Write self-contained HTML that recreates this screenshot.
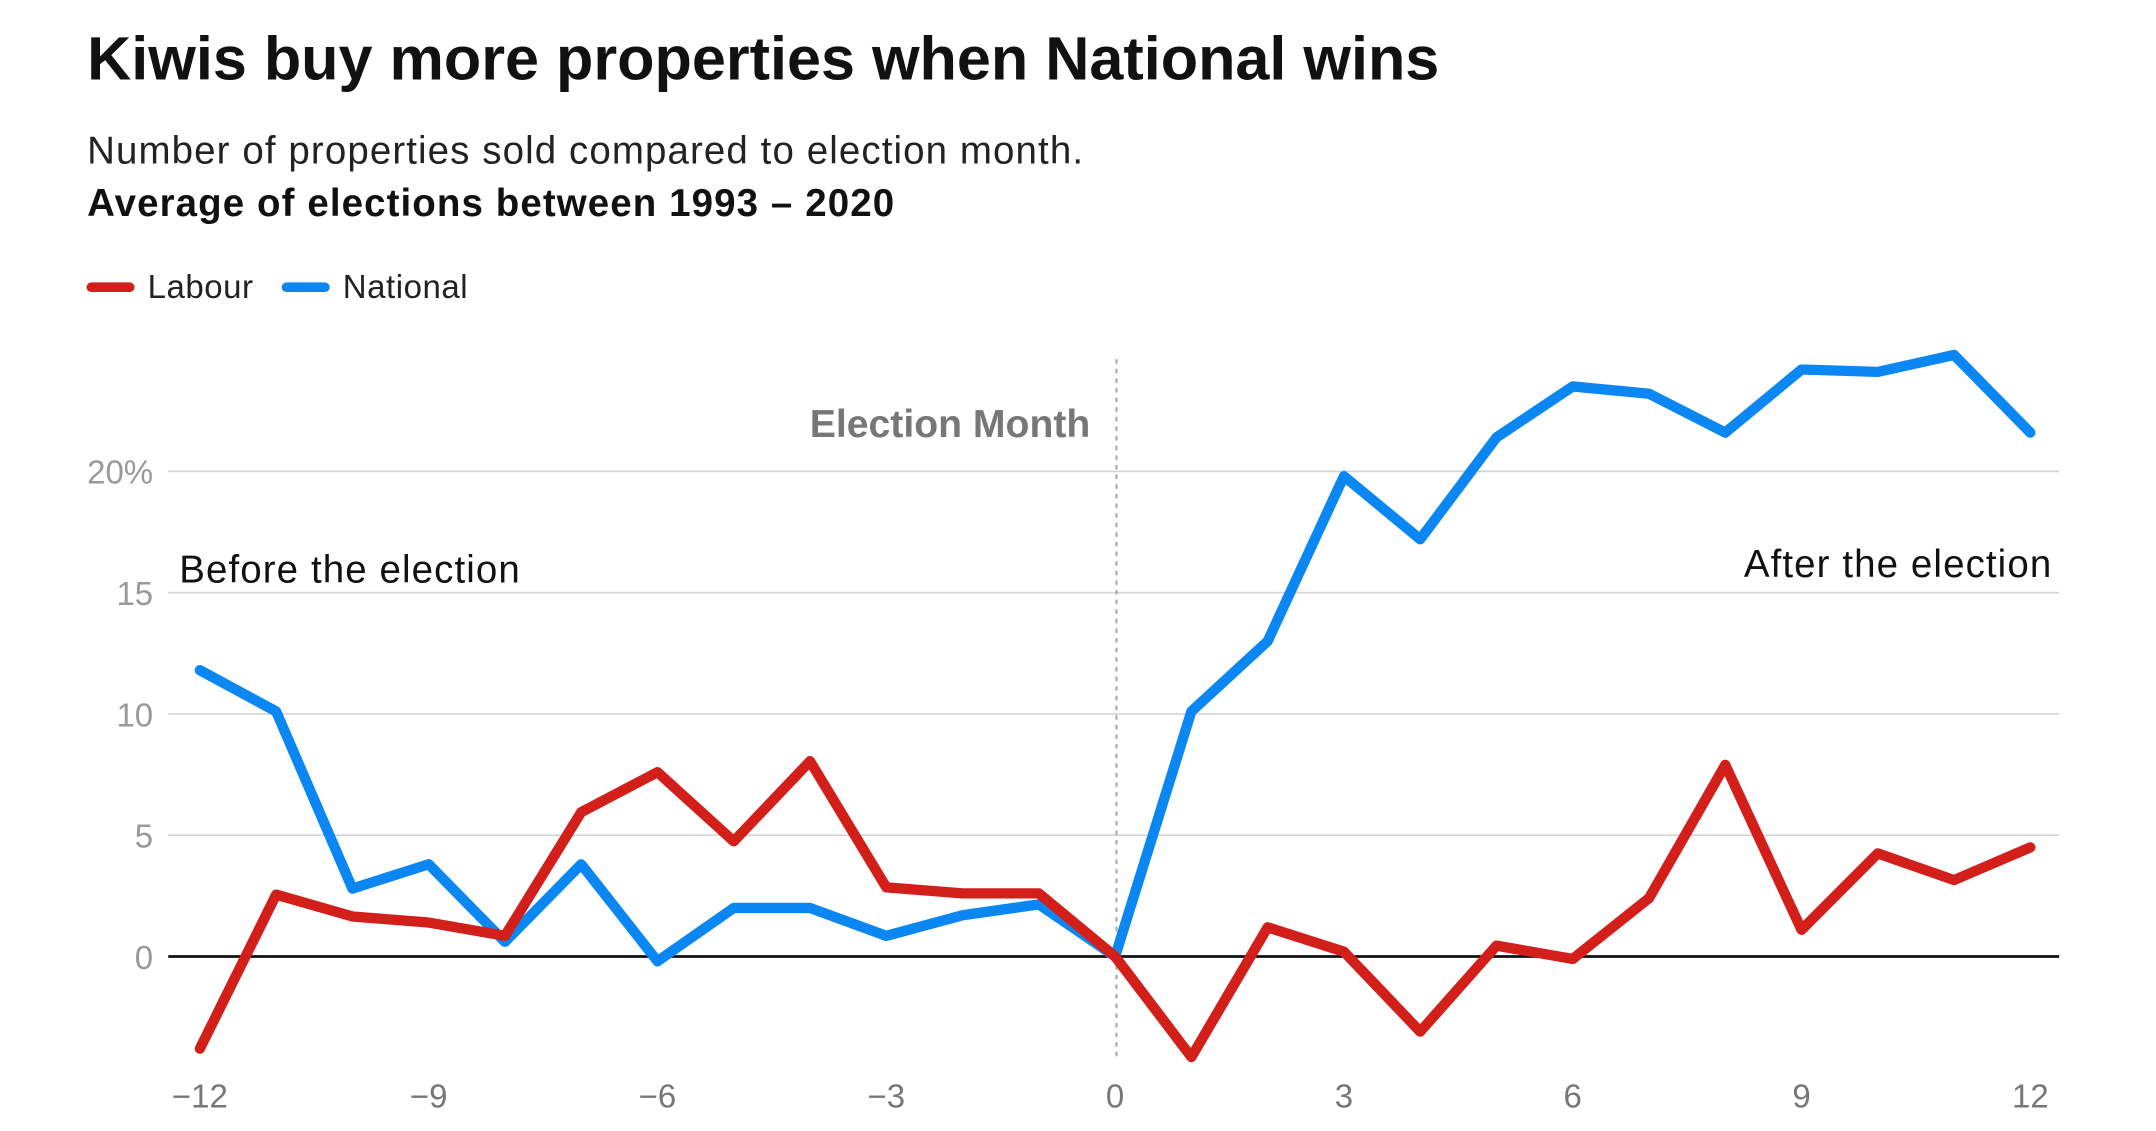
<!DOCTYPE html>
<html><head><meta charset="utf-8"><style>
html,body{margin:0;padding:0;background:#fff;}
svg{display:block;}
text{font-family:"Liberation Sans",sans-serif;}
</style></head><body>
<svg id="chart" width="2156" height="1131" viewBox="0 0 1568 823" xmlns="http://www.w3.org/2000/svg">
<rect width="1568" height="823" fill="#fff"/>
<text x="63" y="58" font-size="44.5" font-weight="bold" fill="#111">Kiwis buy more properties when National wins</text>
<text x="63" y="119" font-size="28" letter-spacing="0.8" fill="#222">Number of properties sold compared to election month.</text>
<text x="63" y="157" font-size="28" letter-spacing="0.8" font-weight="bold" fill="#111">Average of elections between 1993 – 2020</text>
<g>
<line x1="66" y1="209" x2="94" y2="209" stroke="#d21f1a" stroke-width="7" stroke-linecap="round"/>
<text x="107" y="217" font-size="24" letter-spacing="0.4" fill="#222">Labour</text>
<line x1="208" y1="209" x2="236" y2="209" stroke="#0a87f2" stroke-width="7" stroke-linecap="round"/>
<text x="249" y="217" font-size="24" letter-spacing="0.4" fill="#222">National</text>
</g>
<g id="grid"></g>
<g id="marks"></g>
<text x="793" y="318" font-size="28.5" font-weight="bold" fill="#777" text-anchor="end">Election Month</text>
<text x="130" y="424" font-size="28" letter-spacing="0.8" fill="#111">Before the election</text>
<text x="1493" y="420" font-size="28" letter-spacing="0.8" fill="#111" text-anchor="end">After the election</text>
</svg>
<script>
const months = [-12,-11,-10,-9,-8,-7,-6,-5,-4,-3,-2,-1,0,1,2,3,4,5,6,7,8,9,10,11,12];
const national = [11.8,10.1,2.8,3.8,0.6,3.8,-0.2,2.0,2.0,0.85,1.7,2.15,0,10.1,13.0,19.8,17.2,21.4,23.5,23.2,21.6,24.2,24.1,24.8,21.6];
const labour = [-3.8,2.55,1.65,1.4,0.85,5.95,7.6,4.75,8.05,2.85,2.6,2.6,0,-4.15,1.2,0.2,-3.1,0.45,-0.1,2.4,7.9,1.1,4.25,3.15,4.5];
const yTicks = [0,5,10,15,20];
const yTickLabels = ["0","5","10","15","20%"];
const xTicks = [-12,-9,-6,-3,0,3,6,9,12];
const xTickLabels = ["\u221212","\u22129","\u22126","\u22123","0","3","6","9","12"];

const NS="http://www.w3.org/2000/svg";
const xS = m => 811 + m*55.5;
const yS = v => 696 - v*17.65;
const grid=document.getElementById('grid'), marks=document.getElementById('marks');
function mk(tag, attrs, parent){const e=document.createElementNS(NS,tag);for(const k in attrs)e.setAttribute(k,attrs[k]);parent.appendChild(e);return e;}

yTicks.forEach((v,i)=>{
  const l=mk('line',{x1:122,x2:1498,y1:yS(v),y2:yS(v),stroke:v===0?'#111':'#d4d4d4','stroke-width':v===0?2:1.2},grid);
  
  
  const t=mk('text',{x:111,y:yS(v)+9,'font-size':24,fill:'#999','text-anchor':'end'},grid);
  t.textContent=yTickLabels[i];
  
  
});
xTicks.forEach((m,i)=>{
  const t=mk('text',{x:xS(m),y:806,'font-size':24,fill:'#777','text-anchor':'middle'},grid);
  t.textContent=xTickLabels[i];
  
  
});
const vl=mk('line',{x1:xS(0)+1,x2:xS(0)+1,y1:262,y2:768,stroke:'#aaa','stroke-width':1.6,'stroke-dasharray':'2 5','stroke-linecap':'round'},grid);



function series(vals,color,name){
  const pts=vals.map((v,i)=>xS(months[i]).toFixed(1)+','+yS(v).toFixed(1)).join(' ');
  const p=mk('polyline',{points:pts,fill:'none',stroke:color,'stroke-width':7.5,'stroke-linejoin':'round','stroke-linecap':'round'},marks);
  
  
}
series(national,'#0a87f2','national-line');
series(labour,'#d21f1a','labour-line');
</script>
</body></html>
